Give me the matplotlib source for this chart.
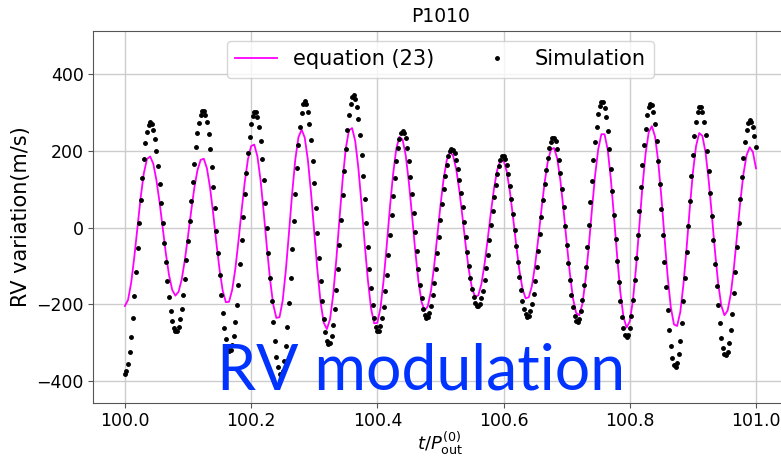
import numpy as np
import matplotlib
matplotlib.use("Agg")
import matplotlib.pyplot as plt

# RV variation (m/s), equation (23): sampled every 0.005 from t/P = 100 to 101
eq23_rv = [
    -204, -188, -143, -75, 2, 79, 142, 179, 186, 167, 124, 66, -2, -68, -124, -162,
    -177, -167, -135, -84, -22, 43, 104, 150, 177, 180, 155, 104, 36, -40, -109, -164,
    -194, -193, -162, -107, -34, 46, 120, 179, 213, 217, 186, 124, 40, -51, -134, -200,
    -235, -233, -190, -111, -13, 89, 178, 236, 256, 235, 176, 90, -11, -110, -193, -247,
    -264, -239, -175, -83, 23, 125, 207, 254, 260, 226, 155, 61, -42, -136, -210, -249,
    -248, -209, -136, -44, 54, 140, 206, 237, 230, 189, 118, 32, -59, -137, -193, -216,
    -204, -164, -100, -22, 58, 127, 176, 198, 188, 153, 96, 27, -46, -110, -158, -180,
    -176, -146, -93, -28, 41, 104, 151, 176, 176, 147, 95, 28, -44, -110, -159, -184,
    -181, -151, -97, -28, 47, 117, 172, 204, 208, 181, 124, 48, -38, -118, -184, -222,
    -228, -198, -134, -49, 47, 136, 205, 244, 244, 204, 127, 29, -75, -167, -233, -260,
    -244, -189, -102, 2, 106, 193, 249, 265, 238, 174, 81, -25, -127, -207, -252, -256,
    -220, -148, -53, 50, 144, 213, 247, 240, 197, 124, 34, -61, -144, -203, -228, -216,
    -173, -104, -20, 66, 139, 189, 210, 198, 155,
]

# RV variation (m/s), simulation: sampled every 0.0025 from t/P = 100 to 101
sim_rv = [
    -380, -374, -355, -325, -284, -234, -177, -116, -52, 12, 73, 130, 180, 221, 251, 269, 276,
    271, 256, 232, 199, 160, 115, 65, 13, -40, -90, -138, -180, -216, -243, -261, -270,
    -269, -259, -239, -211, -176, -133, -85, -35, 18, 70, 120, 167, 210, 246, 274, 293, 304,
    305, 295, 275, 245, 206, 159, 107, 51, -8, -66, -122, -174, -222, -260, -290, -310, -320,
    -319, -306, -281, -246, -202, -150, -94, -33, 28, 88, 144, 194, 238, 270, 292, 303,
    302, 288, 262, 225, 179, 124, 65, 0, -66, -131, -192, -246, -295, -336, -363, -380,
    -384, -373, -348, -308, -258, -196, -131, -56, 17, 89, 156, 216, 264, 300, 322, 330,
    323, 303, 271, 228, 175, 116, 52, -13, -78, -138, -192, -237, -272, -294, -304,
    -300, -283, -254, -213, -163, -107, -44, 21, 85, 148, 205, 254, 294, 324, 341,
    345, 336, 315, 283, 242, 191, 135, 74, 12, -49, -107, -158, -201, -235, -259, -270,
    -269, -257, -236, -206, -165, -122, -72, -19, 33, 84, 130, 173, 207, 232, 248, 253,
    248, 233, 208, 174, 133, 88, 39, -11, -61, -107, -149, -183, -211, -228, -235,
    -232, -221, -203, -176, -144, -107, -66, -23, 20, 62, 101, 136, 164, 186, 200, 206,
    204, 194, 177, 154, 125, 91, 54, 16, -24, -63, -99, -131, -159, -181, -196, -205,
    -205, -199, -184, -164, -137, -105, -70, -33, 6, 44, 80, 112, 140, 162, 178, 186,
    186, 179, 163, 140, 110, 75, 36, -5, -48, -89, -127, -162, -190, -212, -226, -232,
    -229, -218, -199, -173, -140, -102, -60, -16, 29, 72, 114, 150, 181, 207, 224, 234,
    234, 225, 206, 178, 143, 101, 55, 5, -45, -93, -136, -175, -207, -229, -242,
    -245, -237, -217, -188, -149, -102, -49, 8, 66, 122, 176, 223, 264, 296, 318, 328,
    327, 313, 288, 252, 205, 154, 95, 34, -28, -87, -142, -192, -232, -261, -280, -286,
    -279, -260, -229, -188, -137, -80, -19, 43, 106, 163, 215, 258, 293, 314, 323,
    319, 301, 270, 227, 174, 115, 49, -20, -88, -154, -215, -266, -309, -340, -358,
    -362, -352, -329, -294, -248, -192, -131, -64, 5, 71, 135, 191, 239, 277, 302, 315,
    314, 301, 276, 241, 199, 147, 90, 30, -33, -94, -151, -202, -248, -287, -313, -328,
    -332, -323, -301, -267, -224, -171, -114, -51, 12, 74, 132, 183, 224, 255, 274, 281,
    276, 263, 240, 210,
]

t_eq = np.linspace(100.0, 101.0, len(eq23_rv))
t_sim = np.linspace(100.0, 101.0, len(sim_rv))

fig = plt.figure(figsize=(7.81, 4.59), dpi=100)
ax = fig.add_axes([0.1195, 0.1227, 0.8889, 0.8105])

ax.plot(t_eq, eq23_rv, color="#ff00ff", lw=1.3, label="equation (23)")
ax.plot(t_sim, sim_rv, ".", color="black", ms=5, label="Simulation")

ax.set_xlim(99.95, 101.05)
ax.set_ylim(-456, 514)
ax.set_xticks([100.0, 100.2, 100.4, 100.6, 100.8, 101.0])
ax.set_yticks([-400, -200, 0, 200, 400])
ax.tick_params(labelsize=12.5, color="#555555")
for sp in ax.spines.values():
    sp.set_color("#555555")
ax.grid(True, color="#cccccc", lw=1)
ax.set_axisbelow(True)

ax.set_title("P1010", fontsize=13.5)
ax.set_xlabel(r"$t/P_{\rm out}^{(0)}$", fontsize=13, labelpad=0)
ax.set_ylabel("RV variation(m/s)", fontsize=15)
ax.legend(loc="upper center", ncol=2, fontsize=15)

fig.text(217 / 781, 1 - 389 / 459, "RV modulation", family="Lato",
         fontsize=45, color="#0033ff", ha="left", va="baseline")

fig.savefig("out.png", dpi=100)
